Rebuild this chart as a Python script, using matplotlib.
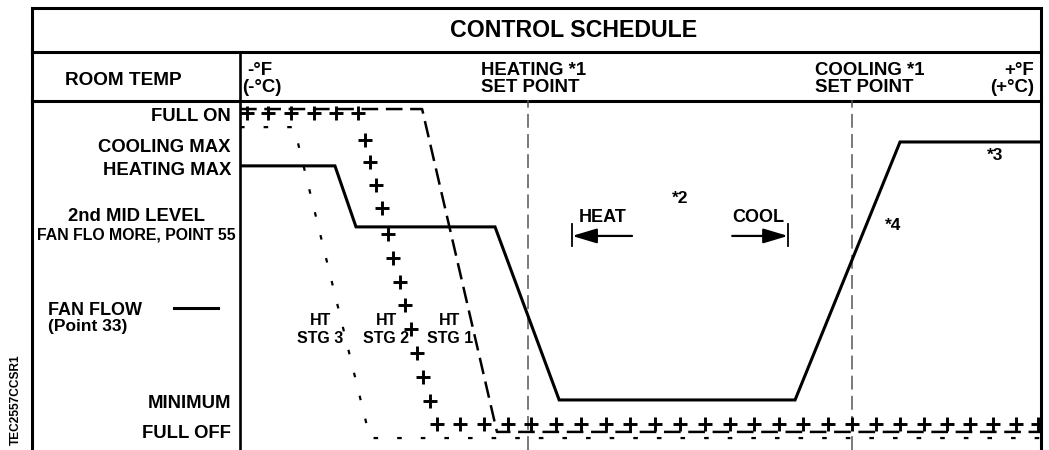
import matplotlib
matplotlib.use("Agg")
import matplotlib.pyplot as plt

plt.rcParams['font.family'] = ['Liberation Sans', 'DejaVu Sans']
plt.rcParams['font.weight'] = 'bold'
plt.rcParams['lines.scale_dashes'] = False

# room temperature (deg F, heating set point 68, cooling set point 78) vs output (% , 0 = full off, 100 = full on)
heat_sp = 68.0
cool_sp = 78.0
t_min, t_max = 59.11, 83.83

fan_t = [59.11, 62.04, 62.69, 66.98, 68.96, 76.24, 79.48, 83.83]
fan_y = [82.4, 82.4, 63.5, 63.5, 9.9, 9.9, 89.8, 89.8]

stg1_t = [59.11, 64.73, 67.04, 83.83]
stg1_y = [100, 100, 0, 0]

stg3_t = [59.11, 60.78, 63.12, 83.83]
stg3_y = [94.4, 94.4, -1.9, -1.9]

# stage 2 is drawn as a row of plus signs
stg2_t = [59.33, 59.98, 60.69, 61.40, 62.07, 62.75,
          62.97, 63.12, 63.31, 63.49, 63.68, 63.83, 64.05, 64.20, 64.39, 64.57, 64.76, 64.98, 65.19,
          65.90, 66.64, 67.38, 68.09, 68.86, 69.64, 70.41, 71.15, 71.92, 72.69, 73.46, 74.23,
          74.98, 75.75, 76.49, 77.26, 78.00, 78.74, 79.48, 80.22, 80.93, 81.64, 82.35, 83.06, 83.74]
stg2_y = [98.8] * 6 + [90.4, 83.6, 76.5, 69.3, 61.3, 53.9, 46.4, 39.3, 31.9, 24.5, 17.0, 9.6, 2.5] \
         + [2.5] * 25

stage_names = ['HT\nSTG 3', 'HT\nSTG 2', 'HT\nSTG 1']
stage_label_t = [61.58, 63.62, 65.59]

W, H = 1049, 450
fig = plt.figure(figsize=(W / 100, H / 100), dpi=100)

# background axes in pixel units for the table frame and headers
bg = fig.add_axes([0, 0, 1, 1])
bg.set_xlim(0, W)
bg.set_ylim(H, 0)
bg.axis('off')

ax = fig.add_axes([240 / W, 0, (1041 - 240) / W, 350 / H])
ax.set_xlim(t_min, t_max)
ax.set_ylim(-5.6, 102.8)
ax.axis('off')

# frame
lw_frame = 2.2
bg.plot([32, 32, 1041, 1041], [450, 8, 8, 450], color='black', lw=lw_frame, solid_joinstyle='miter')
bg.plot([32, 1041], [52, 52], color='black', lw=lw_frame)
bg.plot([32, 1041], [101, 101], color='black', lw=lw_frame)
bg.plot([240, 240], [52, 450], color='black', lw=1.9)

# header texts
bg.text(574, 37, 'CONTROL SCHEDULE', fontsize=16.7, ha='center', va='baseline')
bg.text(123, 85, 'ROOM TEMP', fontsize=13.7, ha='center', va='baseline')
bg.text(247, 75, '-°F', fontsize=13.4, ha='left', va='baseline')
bg.text(242, 92, '(-°C)', fontsize=13.4, ha='left', va='baseline')
bg.text(481, 75, 'HEATING *1', fontsize=13.4, ha='left', va='baseline')
bg.text(481, 92, 'SET POINT', fontsize=13.4, ha='left', va='baseline')
bg.text(815, 75, 'COOLING *1', fontsize=13.4, ha='left', va='baseline')
bg.text(815, 92, 'SET POINT', fontsize=13.4, ha='left', va='baseline')
bg.text(1034, 75, '+°F', fontsize=13.4, ha='right', va='baseline')
bg.text(1034, 92, '(+°C)', fontsize=13.4, ha='right', va='baseline')

# level labels
bg.text(231, 121, 'FULL ON', fontsize=13.3, ha='right', va='baseline')
bg.text(231, 152, 'COOLING MAX', fontsize=13.3, ha='right', va='baseline')
bg.text(231, 175, 'HEATING MAX', fontsize=13.3, ha='right', va='baseline')
bg.text(136, 221, '2nd MID LEVEL', fontsize=13.3, ha='center', va='baseline')
bg.text(236, 240, 'FAN FLO MORE, POINT 55', fontsize=11.4, ha='right', va='baseline')
bg.text(48, 315, 'FAN FLOW', fontsize=13.0, ha='left', va='baseline')
bg.text(48, 331, '(Point 33)', fontsize=12.5, ha='left', va='baseline')
bg.plot([174, 218], [308, 308], color='black', lw=2.2)
bg.text(231, 408, 'MINIMUM', fontsize=13.3, ha='right', va='baseline')
bg.text(231, 438, 'FULL OFF', fontsize=13.3, ha='right', va='baseline')
bg.text(16, 400, 'TEC2557CCSR1', fontsize=8.6, rotation=90, ha='center', va='center')

# set point lines
for sp in [heat_sp, cool_sp]:
    ax.axvline(sp, color='#555555', lw=1.1, linestyle=(0, (10, 4.5)))

# heating stages
ax.plot(stg1_t, stg1_y, color='black', lw=1.8, linestyle=(0, (12, 5.5)))
ax.plot(stg3_t, stg3_y, color='black', lw=1.6, linestyle=(0, (3.3, 13.7)))
ax.plot(stg2_t, stg2_y, linestyle='none', marker='+', ms=10.5, mew=2.1, color='black')

# fan flow
ax.plot(fan_t, fan_y, color='black', lw=2.2, solid_joinstyle='miter')

for name, t in zip(stage_names, stage_label_t):
    top, bottom = name.split('\n')
    ax.text(t, 33.1, top, fontsize=11.5, ha='center', va='baseline')
    ax.text(t, 27.6, bottom, fontsize=11.5, ha='center', va='baseline')

# heat / cool arrows
ax.text(70.31, 65.0, 'HEAT', fontsize=13, ha='center', va='baseline')
ax.text(75.10, 65.0, 'COOL', fontsize=13, ha='center', va='baseline')
arrow = dict(arrowstyle='-|>,head_length=1.5,head_width=0.45', color='black', lw=1.6,
             shrinkA=0, shrinkB=0, mutation_scale=10)
ax.annotate('', xy=(69.36, 60.7), xytext=(71.21, 60.7), arrowprops=arrow)
ax.annotate('', xy=(76.02, 60.7), xytext=(74.30, 60.7), arrowprops=arrow)
ax.plot([69.36, 69.36], [57.6, 64.4], color='black', lw=1.3)
ax.plot([76.02, 76.02], [57.6, 64.4], color='black', lw=1.3)

ax.text(72.69, 70.9, '*2', fontsize=12.5, ha='center', va='baseline')
ax.text(79.27, 62.5, '*4', fontsize=12.5, ha='center', va='baseline')
ax.text(82.41, 84.2, '*3', fontsize=12.5, ha='center', va='baseline')

fig.savefig('out.png', dpi=100, facecolor='white')
